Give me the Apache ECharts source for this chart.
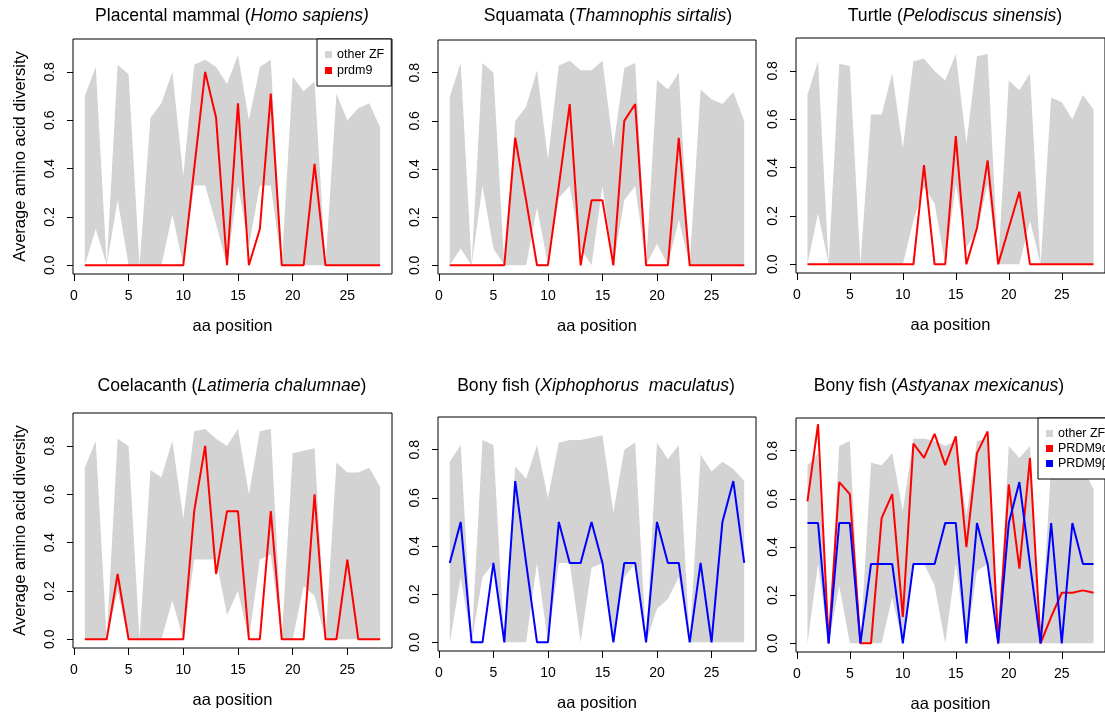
<!DOCTYPE html>
<html><head><meta charset="utf-8">
<script src="https://cdn.jsdelivr.net/npm/echarts@6/dist/echarts.min.js"></script>
<style>html,body{margin:0;padding:0;background:#fff}#c{width:1105px;height:715px}</style>
</head><body><div id="c"></div>
<script>
// ---------- data ----------
const positions = [1,2,3,4,5,6,7,8,9,10,11,12,13,14,15,16,17,18,19,20,21,22,23,24,25,26,27,28];
const xTicks = [0,5,10,15,20,25];
const yTicks = [0,0.2,0.4,0.6,0.8];

const titleParts = [
  ['Placental mammal (', 'Homo sapiens)', ''],
  ['Squamata (', 'Thamnophis sirtalis', ')'],
  ['Turtle (', 'Pelodiscus sinensis', ')'],
  ['Coelacanth (', 'Latimeria chalumnae', ')'],
  ['Bony fish (', 'Xiphophorus  maculatus', ')'],
  ['Bony fish (', 'Astyanax mexicanus', ')']
];

// other ZF range (upper / lower) per panel
const upperHomo = [0.70,0.82,0,0.83,0.79,0,0.61,0.67,0.80,0.37,0.83,0.85,0.82,0.75,0.87,0.60,0.82,0.85,0,0.78,0.72,0.76,0,0.71,0.60,0.65,0.67,0.57];
const lowerHomo = [0,0.15,0,0.27,0,0,0,0,0.21,0,0.33,0.33,0.17,0,0.33,0.08,0.33,0.33,0,0,0,0,0,0,0,0,0,0];
const prdm9Homo = [0,0,0,0,0,0,0,0,0,0,0.40,0.80,0.61,0,0.67,0,0.15,0.71,0,0,0,0.42,0,0,0,0,0,0];

const upperThamno = [0.70,0.84,0,0.84,0.80,0,0.60,0.66,0.81,0.44,0.83,0.85,0.81,0.81,0.85,0.49,0.82,0.84,0,0.77,0.73,0.80,0,0.73,0.69,0.67,0.72,0.60];
const lowerThamno = [0,0.07,0,0.33,0.07,0,0,0,0.24,0,0.28,0.33,0.07,0,0.33,0,0.27,0.33,0,0.09,0,0.19,0,0,0,0,0,0];
const prdm9Thamno = [0,0,0,0,0,0,0.53,0.27,0,0,0.33,0.67,0,0.27,0.27,0,0.60,0.67,0,0,0,0.53,0,0,0,0,0,0];

const upperPelo = [0.70,0.84,0,0.83,0.82,0,0.62,0.62,0.79,0.48,0.84,0.85,0.80,0.76,0.87,0.50,0.86,0.87,0,0.76,0.72,0.79,0,0.69,0.67,0.60,0.70,0.64];
const lowerPelo = [0,0.21,0,0,0,0,0,0,0,0,0.18,0.32,0.25,0,0.33,0.07,0.14,0.33,0,0,0,0.18,0,0,0,0,0,0];
const prdm9Pelo = [0,0,0,0,0,0,0,0,0,0,0,0.41,0,0,0.53,0,0.15,0.43,0,0.15,0.30,0,0,0,0,0,0,0];

const upperLati = [0.71,0.82,0,0.83,0.80,0,0.70,0.67,0.82,0.50,0.86,0.87,0.83,0.80,0.87,0.60,0.86,0.87,0,0.77,0.78,0.79,0,0.73,0.69,0.69,0.71,0.63];
const lowerLati = [0,0,0,0.20,0,0,0,0,0.16,0,0.33,0.33,0.33,0.10,0.20,0,0.33,0.35,0,0,0.22,0.18,0,0,0,0,0,0];
const prdm9Lati = [0,0,0,0.27,0,0,0,0,0,0,0.53,0.80,0.27,0.53,0.53,0,0,0.53,0,0,0,0.60,0,0,0.33,0,0,0];

const upperXipho = [0.75,0.82,0,0.84,0.82,0,0.73,0.68,0.82,0.60,0.83,0.84,0.84,0.85,0.86,0.54,0.80,0.83,0,0.83,0.76,0.82,0,0.78,0.71,0.75,0.72,0.67];
const lowerXipho = [0,0.27,0,0.27,0.33,0,0,0,0.33,0,0.33,0.33,0,0.31,0.33,0,0.27,0.33,0,0.14,0.18,0.27,0,0,0,0,0,0];
const prdm9Xipho = [0.33,0.50,0,0,0.33,0,0.67,0.33,0,0,0.50,0.33,0.33,0.50,0.33,0,0.33,0.33,0,0.50,0.33,0.33,0,0.33,0,0.50,0.67,0.33];

const upperAsty = [0.74,0.79,0,0.82,0.84,0,0.75,0.74,0.79,0.55,0.85,0.85,0.84,0.82,0.84,0.53,0.84,0.85,0,0.82,0.77,0.82,0,0.74,0.72,0.70,0.73,0.64];
const lowerAsty = [0,0.33,0,0.24,0,0,0,0,0.19,0,0.33,0.33,0.24,0,0.33,0,0.30,0.33,0,0,0,0,0,0,0,0,0,0];
const prdm9aAsty = [0.59,0.91,0,0.67,0.62,0,0,0.52,0.62,0.11,0.83,0.77,0.87,0.74,0.86,0.40,0.79,0.88,0,0.66,0.31,0.77,0,0.11,0.21,0.21,0.22,0.21];
const prdm9bAsty = [0.50,0.50,0,0.50,0.50,0,0.33,0.33,0.33,0,0.33,0.33,0.33,0.50,0.50,0,0.50,0.33,0,0.50,0.67,0.33,0,0.50,0,0.50,0.33,0.33];

// ---------- layout ----------
const fam = '"Liberation Sans", Arial, Helvetica, sans-serif';
const RED = '#ff0000', BLUE = '#0000ff', GREY = '#d3d3d3';

const panels = [
  {grid:{left:73, top:39, width:319, height:235}, tx:232, ty:5, upper:upperHomo, lower:lowerHomo, lines:[{name:'prdm9', data:prdm9Homo, color:RED}], yName:true},
  {grid:{left:438, top:40, width:318, height:234}, tx:608, ty:5, upper:upperThamno, lower:lowerThamno, lines:[{name:'prdm9', data:prdm9Thamno, color:RED}]},
  {grid:{left:796, top:38, width:317, height:235}, tx:955, ty:5, upper:upperPelo, lower:lowerPelo, lines:[{name:'prdm9', data:prdm9Pelo, color:RED}]},
  {grid:{left:73, top:413, width:319, height:235}, tx:232, ty:375, upper:upperLati, lower:lowerLati, lines:[{name:'prdm9', data:prdm9Lati, color:RED}], yName:true},
  {grid:{left:438, top:417, width:318, height:234}, tx:596, ty:375, upper:upperXipho, lower:lowerXipho, lines:[{name:'PRDM9β', data:prdm9Xipho, color:BLUE}]},
  {grid:{left:796, top:418, width:317, height:234}, tx:939, ty:375, upper:upperAsty, lower:lowerAsty, lines:[{name:'PRDM9α', data:prdm9aAsty, color:RED},{name:'PRDM9β', data:prdm9bAsty, color:BLUE}]}
];

const legendText = {fontSize:12.5, color:'#000', fontFamily:fam};
const option = {
  backgroundColor:'#fff',
  animation:false,
  textStyle:{fontFamily:fam},
  title:[], grid:[], xAxis:[], yAxis:[], series:[],
  legend:[
    {left:317, top:39, orient:'vertical', selectedMode:false,
     data:[{name:'other ZF', icon:'rect', itemStyle:{color:GREY}}, {name:'prdm9', icon:'rect', itemStyle:{color:RED}}],
     itemWidth:7, itemHeight:7, itemGap:3, padding:[9,7,9,8],
     borderColor:'#000', borderWidth:1, borderRadius:0, backgroundColor:'#fff',
     textStyle:legendText},
    {left:1038, top:418, orient:'vertical', selectedMode:false,
     data:[{name:'other ZF', icon:'rect', itemStyle:{color:GREY}}, {name:'PRDM9α', icon:'rect', itemStyle:{color:RED}}, {name:'PRDM9β', icon:'rect', itemStyle:{color:BLUE}}],
     itemWidth:7, itemHeight:7, itemGap:2, padding:[9,10,9,8],
     borderColor:'#000', borderWidth:1, borderRadius:0, backgroundColor:'#fff',
     textStyle:legendText}
  ]
};

panels.forEach((p, i) => {
  const tp = titleParts[i];
  let txt = '{n|' + tp[0] + '}{i|' + tp[1] + '}';
  if (tp[2]) txt += '{n|' + tp[2] + '}';
  option.title.push({
    text: txt, left: p.tx, top: p.ty, textAlign:'center', padding:0,
    textStyle:{fontWeight:'normal', rich:{
      n:{fontSize:17.6, color:'#000', fontFamily:fam, fontWeight:'normal', lineHeight:22},
      i:{fontSize:17.6, color:'#000', fontFamily:fam, fontWeight:'normal', fontStyle:'italic', lineHeight:22}
    }}
  });
  option.grid.push(Object.assign({show:true, borderColor:'#000', borderWidth:1, backgroundColor:'transparent'}, p.grid));
  option.xAxis.push({
    type:'value', gridIndex:i, min:-0.08, max:29.08,
    axisLine:{show:false, onZero:false}, splitLine:{show:false},
    axisTick:{show:true, length:7, lineStyle:{color:'#000', width:1}, customValues:xTicks},
    axisLabel:{customValues:xTicks, margin:15, fontSize:14, color:'#000', fontFamily:fam},
    name:'aa position', nameLocation:'middle', nameGap:44,
    nameTextStyle:{fontSize:16.5, color:'#000', fontFamily:fam}
  });
  const ya = {
    type:'value', gridIndex:i, min:-0.036, max:0.936,
    axisLine:{show:false, onZero:false}, splitLine:{show:false},
    axisTick:{show:true, length:6, lineStyle:{color:'#000', width:1}, customValues:yTicks},
    axisLabel:{customValues:yTicks, rotate:90, margin:16, fontSize:14, color:'#000', fontFamily:fam,
      formatter:v => Number(v).toFixed(1)}
  };
  if (p.yName) {
    ya.name = 'Average amino acid diversity';
    ya.nameLocation = 'middle'; ya.nameGap = 44; ya.nameRotate = 90;
    ya.nameTextStyle = {fontSize:16.5, color:'#000', fontFamily:fam};
  }
  option.yAxis.push(ya);

  // grey range polygon of the other zinc fingers
  option.series.push({
    type:'custom', name:'other ZF', xAxisIndex:i, yAxisIndex:i, color:GREY, silent:true, z:1, clip:true,
    data: positions.map((x,k) => [x, p.lower[k], p.upper[k]]),
    encode:{x:0, y:[1,2]},
    renderItem:(params, api) => {
      if (params.dataIndex !== 0) return null;
      const pts = [];
      for (let k = 0; k < positions.length; k++) pts.push(api.coord([positions[k], p.upper[k]]));
      for (let k = positions.length - 1; k >= 0; k--) pts.push(api.coord([positions[k], p.lower[k]]));
      return {type:'polygon', shape:{points:pts}, style:{fill:GREY, stroke:null}, silent:true};
    }
  });
  p.lines.forEach(l => {
    option.series.push({
      type:'line', name:l.name, xAxisIndex:i, yAxisIndex:i, color:l.color,
      data: positions.map((x,k) => [x, l.data[k]]),
      symbol:'none', silent:true, lineStyle:{width:2, color:l.color}, z:3
    });
  });
});

const chart = echarts.init(document.getElementById('c'), null, {renderer:'canvas'});
chart.setOption(option);
</script>
</body></html>
